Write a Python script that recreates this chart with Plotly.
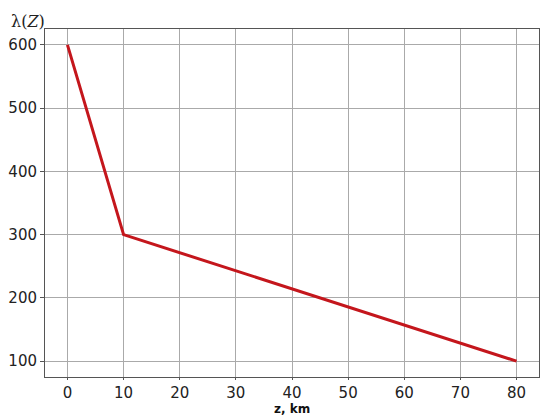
import plotly.graph_objects as go

# profile lambda(z)
z_km = [0, 10, 80]
lam = [600, 300, 100]

x_ticks = [0, 10, 20, 30, 40, 50, 60, 70, 80]
y_ticks = [100, 200, 300, 400, 500, 600]

line_red = "#c4161c"

fig = go.Figure()
fig.add_trace(go.Scatter(x=z_km, y=lam, mode="lines",
                         line=dict(color=line_red, width=3), showlegend=False))

# page body has an 8px margin, so the figure is shrunk by 8px to fit the window
fig.update_layout(
    width=542, height=412,
    margin=dict(l=37, r=11, t=21, b=43),
    paper_bgcolor="white", plot_bgcolor="white",
    font=dict(family="DejaVu Sans", size=15, color="#222"),
)
fig.update_xaxes(range=[-4, 84], tickvals=x_ticks, showgrid=True, gridcolor="#aaaaaa",
                 gridwidth=1, showline=True, linecolor="#555", linewidth=1, mirror=True,
                 ticks="outside", ticklen=2, tickcolor="#555", zeroline=False,
                 automargin=False)
fig.update_yaxes(range=[75, 625], tickvals=y_ticks, showgrid=True, gridcolor="#aaaaaa",
                 gridwidth=1, showline=True, linecolor="#555", linewidth=1, mirror=True,
                 ticks="outside", ticklen=4, tickcolor="#555", zeroline=False,
                 automargin=False)

fig.add_annotation(text="λ(<i>Z</i>)", x=0, y=1, xref="paper", yref="paper",
                   xanchor="right", yanchor="bottom", xshift=2, yshift=-4, showarrow=False,
                   font=dict(family="DejaVu Serif", size=16, color="#222"))
fig.add_annotation(text="<b>z, km</b>", x=0.5, y=0, xref="paper", yref="paper",
                   xanchor="center", yanchor="top", yshift=-23, showarrow=False,
                   font=dict(family="DejaVu Sans", size=12, color="#111"))

fig.write_html("out.html")
